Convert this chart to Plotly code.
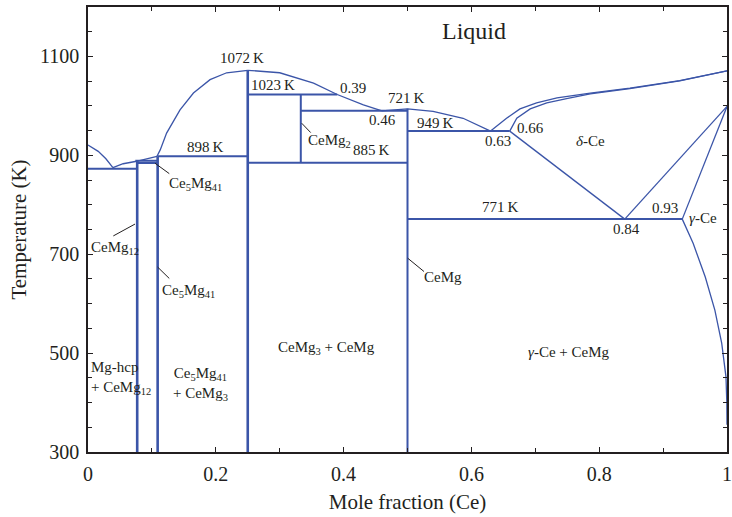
import plotly.graph_objects as go

# ---- Ce–Mg phase diagram data (mole fraction Ce, temperature K) ----
mg_liquidus_x = [0.0, 0.016, 0.028, 0.039]
mg_liquidus_t = [921, 908, 893, 875]

ce5mg41_liquidus_x = [0.039, 0.055, 0.074, 0.090, 0.108]
ce5mg41_liquidus_t = [875, 883, 887.5, 892, 898]

cemg3_liq_left_x = [0.108, 0.113, 0.123, 0.144, 0.165, 0.191, 0.217, 0.25]
cemg3_liq_left_t = [898, 911, 945, 992, 1026, 1053, 1067, 1072]

cemg3_liq_right_x = [0.25, 0.30, 0.353, 0.39, 0.431, 0.46]
cemg3_liq_right_t = [1072, 1067, 1046, 1023, 1002, 990]

cemg_liquidus_x = [0.46, 0.50, 0.54, 0.587, 0.63]
cemg_liquidus_t = [990, 994, 989, 975, 949]

ce_liquidus_x = [0.63, 0.655, 0.676, 0.702, 0.734, 0.786, 0.848, 0.926, 1.0]
ce_liquidus_t = [949, 975, 994, 1006, 1016, 1026, 1036, 1051, 1071]

ce_solidus_x = [0.66, 0.671, 0.692, 0.718, 0.749, 0.786, 0.848, 0.926, 1.0]
ce_solidus_t = [949, 975, 994, 1006, 1014.5, 1024.5, 1035, 1050.5, 1071]

delta_solvus_x = [0.66, 0.84]
delta_solvus_t = [949, 771]

delta_lower_x = [0.84, 1.0]
delta_lower_t = [771, 999]

gamma_upper_x = [0.93, 1.0]
gamma_upper_t = [771, 999]

gamma_solvus_x = [0.93, 0.947, 0.966, 0.981, 0.9917, 0.9984, 0.9997, 1.0]
gamma_solvus_t = [771, 722, 654, 587, 520, 452, 400, 355]

# stoichiometric compounds: (composition, lower T, upper T)
compounds = {
    "CeMg12": (0.077, 300, 889),
    "Ce5Mg41": (0.109, 300, 898),
    "CeMg3": (0.25, 300, 1072),
    "CeMg2": (0.333, 885, 1023),
    "CeMg": (0.50, 300, 994),
}

# invariant reactions: (T, x start, x end)
invariants = [
    (873, 0.0, 0.077),
    (889, 0.074, 0.109),
    (884.5, 0.077, 0.109),
    (898, 0.109, 0.25),
    (1023, 0.25, 0.39),
    (990, 0.333, 0.50),
    (885, 0.25, 0.50),
    (949, 0.50, 0.66),
    (771, 0.50, 0.93),
]

# leader lines for compound labels: (x0, T0, x1, T1)
leaders = [
    (0.0736, 761, 0.0396, 737),
    (0.1049, 884, 0.1272, 863),
    (0.109, 674, 0.1272, 651),
    (0.3344, 965, 0.3485, 946),
    (0.5003, 692, 0.5258, 665),
]

# labels: (text, x, T, size, xanchor)
labels = [
    ("Liquid", 0.6033, 1152, 24, "center"),
    ("1072\u2009K", 0.241, 1097, 15, "center"),
    ("1023\u2009K", 0.289, 1043, 15, "center"),
    ("0.39", 0.4147, 1036, 15, "center"),
    ("721\u2009K", 0.4992, 1016, 15, "center"),
    ("0.46", 0.461, 972, 15, "center"),
    ("949\u2009K", 0.5435, 965, 15, "center"),
    ("CeMg<sub>2</sub>", 0.3787, 929, 15, "center"),
    ("885\u2009K", 0.4429, 910, 15, "center"),
    ("898\u2009K", 0.1831, 916, 15, "center"),
    ("Ce<sub>5</sub>Mg<sub>41</sub>", 0.169, 842, 15, "center"),
    ("CeMg<sub>12</sub>", 0.001, 713, 15, "left"),
    ("Ce<sub>5</sub>Mg<sub>41</sub>", 0.158, 625, 15, "center"),
    ("Mg-hcp<br>+ CeMg<sub>12</sub>", 0.001, 449, 15, "left"),
    ("Ce<sub>5</sub>Mg<sub>41</sub><br>+ CeMg<sub>3</sub>", 0.1753, 437, 15, "center"),
    ("CeMg<sub>3</sub> + CeMg", 0.373, 511, 15, "center"),
    ("<i>γ</i>-Ce + CeMg", 0.7527, 502, 15, "center"),
    ("CeMg", 0.556, 653, 15, "center"),
    ("0.63", 0.642, 928, 15, "center"),
    ("0.66", 0.6917, 955, 15, "center"),
    ("<i>δ</i>-Ce", 0.7856, 928, 15, "center"),
    ("771\u2009K", 0.6448, 795, 15, "center"),
    ("0.84", 0.843, 752, 15, "center"),
    ("0.93", 0.903, 793, 15, "center"),
    ("<i>γ</i>-Ce", 0.963, 773, 15, "center"),
]

x_ticks = [0, 0.2, 0.4, 0.6, 0.8, 1.0]
x_ticktext = ["0", "0.2", "0.4", "0.6", "0.8", "1"]
y_ticks = [300, 500, 700, 900, 1100]

BLUE = "#3b55a8"
INK = "#231f20"
FONT = "Liberation Serif"

fig = go.Figure()


def line(x, y, width, color=BLUE):
    fig.add_trace(go.Scatter(x=x, y=y, mode="lines", showlegend=False,
                             hoverinfo="skip",
                             line=dict(color=color, width=width)))


# phase boundaries
for xs, ts in [
    (mg_liquidus_x, mg_liquidus_t),
    (ce5mg41_liquidus_x, ce5mg41_liquidus_t),
    (cemg3_liq_left_x, cemg3_liq_left_t),
    (cemg3_liq_right_x, cemg3_liq_right_t),
    (cemg_liquidus_x, cemg_liquidus_t),
    (ce_liquidus_x, ce_liquidus_t),
    (ce_solidus_x, ce_solidus_t),
    (delta_solvus_x, delta_solvus_t),
    (delta_lower_x, delta_lower_t),
    (gamma_upper_x, gamma_upper_t),
    (gamma_solvus_x, gamma_solvus_t),
]:
    line(xs, ts, 1.3)

# invariant horizontals
for t, x0, x1 in invariants:
    line([x0, x1], [t, t], 2)

# compound verticals
for name, (xc, t0, t1) in compounds.items():
    w = 2.6 if name in ("CeMg12", "Ce5Mg41", "CeMg3") else 2
    line([xc, xc], [t0, t1], w)

# leader lines
for x0, t0, x1, t1 in leaders:
    line([x0, x1], [t0, t1], 1, INK)

for text, x, t, size, xa in labels:
    fig.add_annotation(x=x, y=t, text=text, showarrow=False, xanchor=xa,
                       yanchor="middle", align=xa if xa != "center" else "center",
                       font=dict(family=FONT, size=size, color=INK))

axis_common = dict(
    showline=True, linecolor="#231f20", linewidth=1.5, mirror="ticks",
    ticks="inside", ticklen=5, tickwidth=1.2, tickcolor="#231f20",
    showgrid=False, zeroline=False, automargin=False,
    tickfont=dict(family=FONT, size=20, color=INK),
)

fig.update_xaxes(
    range=[0, 1], tickvals=x_ticks, ticktext=x_ticktext,
    ticklabelstandoff=3,
    minor=dict(dtick=0.1, ticks="inside", ticklen=4, tickwidth=1.2,
               tickcolor="#231f20", showgrid=False),
    title=dict(text="Mole fraction (Ce)", standoff=11,
               font=dict(family=FONT, size=21, color=INK)),
    **axis_common,
)
fig.update_yaxes(
    range=[300, 1200], tickvals=y_ticks,
    ticklabelstandoff=3,
    minor=dict(dtick=50, ticks="inside", ticklen=4, tickwidth=1.2,
               tickcolor="#231f20", showgrid=False),
    title=dict(text="Temperature (K)", standoff=8,
               font=dict(family=FONT, size=21, color=INK)),
    **axis_common,
)

fig.update_layout(
    width=732, height=517, autosize=False,
    margin=dict(l=88, r=5, t=7, b=65),
    paper_bgcolor="white", plot_bgcolor="white",
    showlegend=False,
)

fig.write_html("out.html")
